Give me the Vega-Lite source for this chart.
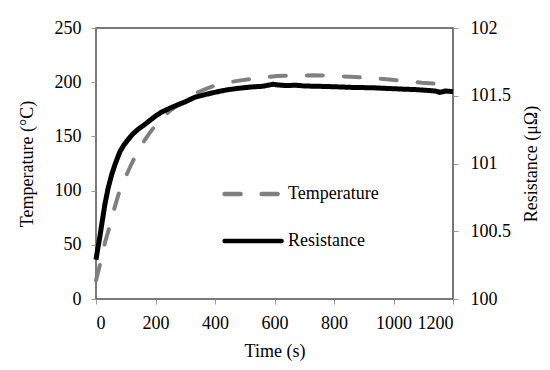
{
  "$schema": "https://vega.github.io/schema/vega-lite/v6.json",
  "width": 357,
  "height": 271,
  "autosize": {"type": "none"},
  "padding": {"left": 96, "top": 28, "right": 97, "bottom": 71},
  "background": "white",
  "config": {
    "font": "Liberation Serif",
    "view": {"stroke": "#4d4d4d", "strokeWidth": 1.5},
    "axis": {
      "grid": false,
      "domain": false,
      "tickColor": "#999999",
      "tickSize": 5,
      "labelFont": "Liberation Serif",
      "labelFontSize": 18,
      "labelColor": "black",
      "titleFont": "Liberation Serif",
      "titleFontSize": 18,
      "titleFontWeight": "normal",
      "titleColor": "black"
    },
    "legend": {
      "labelFont": "Liberation Serif",
      "labelFontSize": 18,
      "labelColor": "black",
      "symbolType": "M-1,0H4",
      "symbolSize": 520,
      "symbolStrokeWidth": 4.5,
      "labelOffset": 38,
      "rowPadding": 24,
      "padding": 0
    }
  },
  "datasets": {
    "temp": [
      {"series": "Temperature", "t": 0, "v": 17},
      {"series": "Temperature", "t": 10, "v": 28},
      {"series": "Temperature", "t": 20, "v": 40},
      {"series": "Temperature", "t": 30, "v": 52},
      {"series": "Temperature", "t": 45, "v": 66},
      {"series": "Temperature", "t": 60, "v": 82},
      {"series": "Temperature", "t": 75, "v": 96},
      {"series": "Temperature", "t": 90, "v": 107},
      {"series": "Temperature", "t": 105, "v": 116},
      {"series": "Temperature", "t": 120, "v": 125},
      {"series": "Temperature", "t": 150, "v": 141},
      {"series": "Temperature", "t": 180, "v": 153},
      {"series": "Temperature", "t": 210, "v": 164},
      {"series": "Temperature", "t": 250, "v": 174},
      {"series": "Temperature", "t": 300, "v": 184},
      {"series": "Temperature", "t": 344, "v": 191},
      {"series": "Temperature", "t": 389, "v": 196},
      {"series": "Temperature", "t": 430, "v": 199},
      {"series": "Temperature", "t": 470, "v": 201},
      {"series": "Temperature", "t": 550, "v": 204},
      {"series": "Temperature", "t": 610, "v": 205.7},
      {"series": "Temperature", "t": 670, "v": 206.2},
      {"series": "Temperature", "t": 730, "v": 206.3},
      {"series": "Temperature", "t": 790, "v": 206},
      {"series": "Temperature", "t": 854, "v": 205},
      {"series": "Temperature", "t": 920, "v": 204},
      {"series": "Temperature", "t": 977, "v": 202.7},
      {"series": "Temperature", "t": 1040, "v": 201},
      {"series": "Temperature", "t": 1095, "v": 199.5},
      {"series": "Temperature", "t": 1150, "v": 198.5},
      {"series": "Temperature", "t": 1200, "v": 197.4}
    ],
    "res": [
      {"series": "Resistance", "t": 0, "v": 100.29},
      {"series": "Resistance", "t": 5, "v": 100.36},
      {"series": "Resistance", "t": 13, "v": 100.46},
      {"series": "Resistance", "t": 20, "v": 100.56},
      {"series": "Resistance", "t": 30, "v": 100.7},
      {"series": "Resistance", "t": 41, "v": 100.82},
      {"series": "Resistance", "t": 53, "v": 100.92},
      {"series": "Resistance", "t": 65, "v": 101.0},
      {"series": "Resistance", "t": 81, "v": 101.09},
      {"series": "Resistance", "t": 95, "v": 101.14},
      {"series": "Resistance", "t": 109, "v": 101.18},
      {"series": "Resistance", "t": 125, "v": 101.22},
      {"series": "Resistance", "t": 140, "v": 101.25},
      {"series": "Resistance", "t": 165, "v": 101.29},
      {"series": "Resistance", "t": 185, "v": 101.325},
      {"series": "Resistance", "t": 200, "v": 101.35},
      {"series": "Resistance", "t": 221, "v": 101.38},
      {"series": "Resistance", "t": 250, "v": 101.41},
      {"series": "Resistance", "t": 277, "v": 101.435},
      {"series": "Resistance", "t": 300, "v": 101.455},
      {"series": "Resistance", "t": 333, "v": 101.49},
      {"series": "Resistance", "t": 360, "v": 101.505},
      {"series": "Resistance", "t": 389, "v": 101.52},
      {"series": "Resistance", "t": 420, "v": 101.535},
      {"series": "Resistance", "t": 444, "v": 101.545},
      {"series": "Resistance", "t": 480, "v": 101.555},
      {"series": "Resistance", "t": 523, "v": 101.565},
      {"series": "Resistance", "t": 560, "v": 101.57},
      {"series": "Resistance", "t": 596, "v": 101.585},
      {"series": "Resistance", "t": 610, "v": 101.58},
      {"series": "Resistance", "t": 640, "v": 101.575},
      {"series": "Resistance", "t": 670, "v": 101.578},
      {"series": "Resistance", "t": 700, "v": 101.572},
      {"series": "Resistance", "t": 742, "v": 101.57},
      {"series": "Resistance", "t": 780, "v": 101.568},
      {"series": "Resistance", "t": 820, "v": 101.565},
      {"series": "Resistance", "t": 854, "v": 101.562},
      {"series": "Resistance", "t": 900, "v": 101.56},
      {"series": "Resistance", "t": 940, "v": 101.558},
      {"series": "Resistance", "t": 966, "v": 101.555},
      {"series": "Resistance", "t": 1000, "v": 101.552},
      {"series": "Resistance", "t": 1040, "v": 101.548},
      {"series": "Resistance", "t": 1078, "v": 101.545},
      {"series": "Resistance", "t": 1110, "v": 101.54},
      {"series": "Resistance", "t": 1140, "v": 101.535},
      {"series": "Resistance", "t": 1156, "v": 101.525},
      {"series": "Resistance", "t": 1175, "v": 101.535},
      {"series": "Resistance", "t": 1200, "v": 101.53}
    ]
  },
  "encoding": {
    "x": {
      "field": "t",
      "type": "quantitative",
      "scale": {"domain": [0, 1200], "nice": false},
      "axis": {
        "values": [0, 200, 400, 600, 800, 1000, 1200],
        "format": "d",
        "title": "Time (s)",
        "labelPadding": 10,
        "titlePadding": 10
      }
    }
  },
  "layer": [
    {
      "data": {"name": "temp"},
      "mark": {"type": "line", "strokeWidth": 4, "strokeCap": "round"},
      "encoding": {
        "y": {
          "field": "v",
          "type": "quantitative",
          "scale": {"domain": [0, 250], "nice": false},
          "axis": {
            "orient": "left",
            "title": "Temperature (°C)",
            "values": [0, 50, 100, 150, 200, 250],
            "labelPadding": 10,
            "titlePadding": 18
          }
        },
        "color": {
          "field": "series",
          "type": "nominal",
          "scale": {"domain": ["Temperature", "Resistance"], "range": ["#808080", "#000000"]},
          "legend": {"title": null, "orient": "none", "legendX": 126, "legendY": 152, "encode": {"symbols": {"update": {"strokeCap": {"value": "round"}}}}}
        },
        "strokeDash": {
          "field": "series",
          "type": "nominal",
          "scale": {"domain": ["Temperature", "Resistance"], "range": [[16, 21], [1, 0]]},
          "legend": {"title": null, "orient": "none", "legendX": 126, "legendY": 152}
        }
      }
    },
    {
      "data": {"name": "res"},
      "mark": {"type": "line", "strokeWidth": 5},
      "encoding": {
        "y": {
          "field": "v",
          "type": "quantitative",
          "scale": {"domain": [100, 102], "nice": false},
          "axis": {
            "orient": "right",
            "title": "Resistance (μΩ)",
            "titleAngle": -90,
            "values": [100, 100.5, 101, 101.5, 102],
            "format": "~g",
            "labelPadding": 12,
            "titlePadding": 30
          }
        },
        "color": {"field": "series", "type": "nominal"},
        "strokeDash": {"field": "series", "type": "nominal"}
      }
    }
  ],
  "resolve": {"scale": {"y": "independent"}}
}
